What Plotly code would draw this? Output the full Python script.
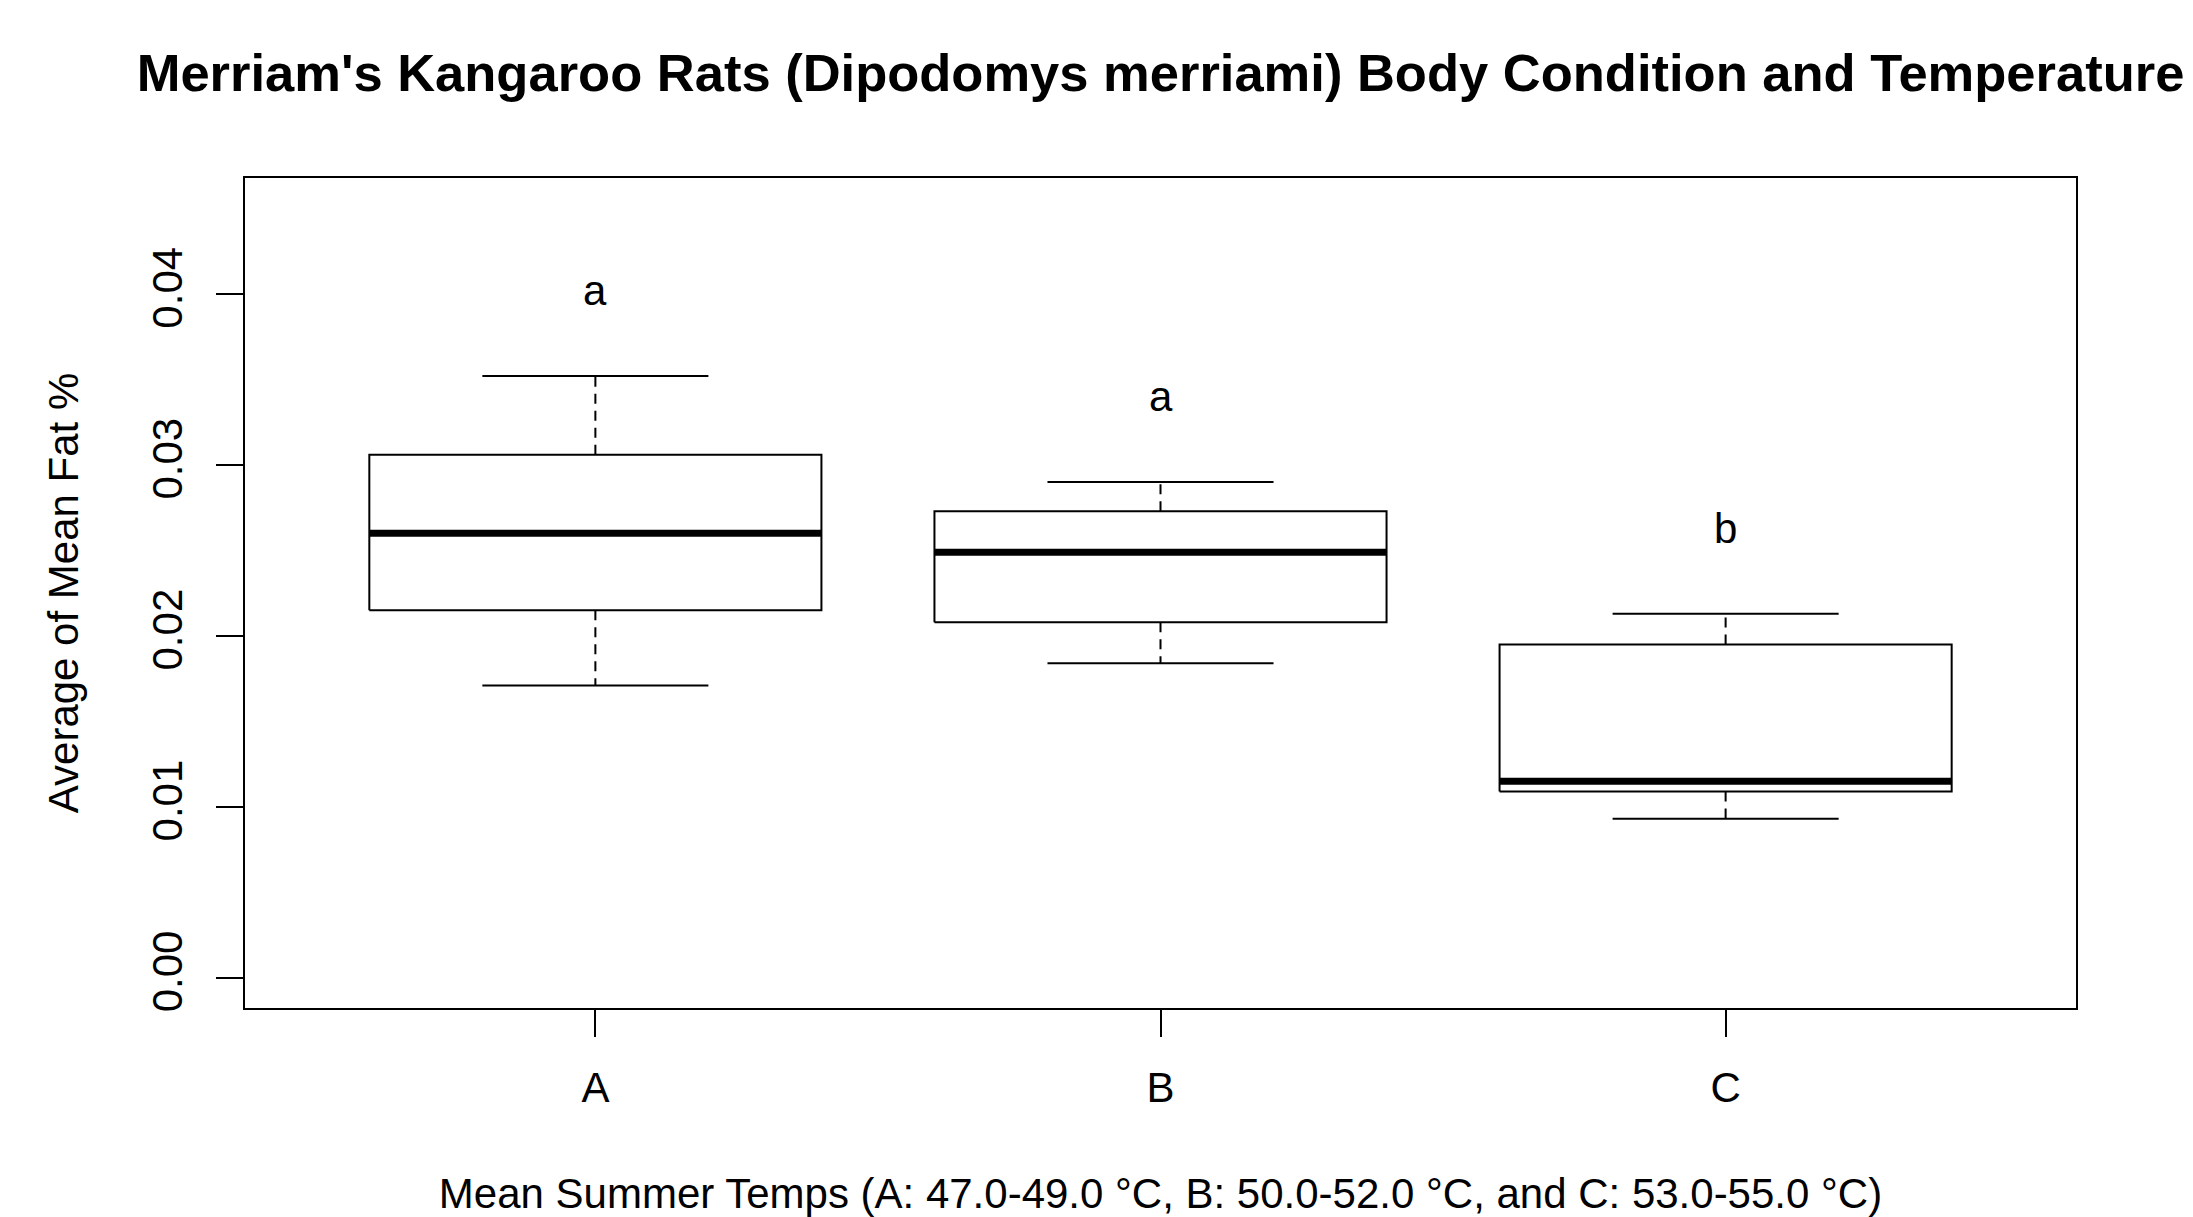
import plotly.graph_objects as go

# ---- data ----
groups = ["A", "B", "C"]
lower_whisker = [0.0171, 0.0184, 0.0093]
q1 = [0.0215, 0.0208, 0.0109]
median = [0.0260, 0.0249, 0.0115]
q3 = [0.0306, 0.0273, 0.0195]
upper_whisker = [0.0352, 0.0290, 0.0213]
letters = ["a", "a", "b"]
letter_offset = 0.005
y_tickvals = [0.00, 0.01, 0.02, 0.03, 0.04]
y_ticktext = ["0.00", "0.01", "0.02", "0.03", "0.04"]

# ---- style ----
BOX_HALF = 0.4
STAPLE_HALF = 0.2
FONT = "Liberation Sans, Arial, sans-serif"
BLACK = "#000000"
W, H = 2185, 1209

fig = go.Figure()
for i, g in enumerate(groups):
    x = i + 1
    # box
    fig.add_trace(go.Scatter(
        x=[x - BOX_HALF, x + BOX_HALF, x + BOX_HALF, x - BOX_HALF, x - BOX_HALF],
        y=[q1[i], q1[i], q3[i], q3[i], q1[i]],
        mode="lines", line=dict(color=BLACK, width=2), showlegend=False, hoverinfo="skip"))
    # whiskers (dashed)
    for a, b in ((q3[i], upper_whisker[i]), (q1[i], lower_whisker[i])):
        fig.add_trace(go.Scatter(
            x=[x, x], y=[a, b], mode="lines",
            line=dict(color=BLACK, width=2, dash="10px,7px"),
            showlegend=False, hoverinfo="skip"))
    # staples
    for v in (upper_whisker[i], lower_whisker[i]):
        fig.add_trace(go.Scatter(
            x=[x - STAPLE_HALF, x + STAPLE_HALF], y=[v, v], mode="lines",
            line=dict(color=BLACK, width=2), showlegend=False, hoverinfo="skip"))
    # median
    fig.add_trace(go.Scatter(
        x=[x - BOX_HALF, x + BOX_HALF], y=[median[i], median[i]], mode="lines",
        line=dict(color=BLACK, width=7), showlegend=False, hoverinfo="skip"))
    # significance letter
    fig.add_annotation(x=x, y=upper_whisker[i] + letter_offset, text=letters[i],
                       showarrow=False, xanchor="center", yanchor="middle",
                       font=dict(family=FONT, size=42, color=BLACK))

fig.update_layout(
    width=W, height=H,
    margin=dict(l=237, r=117, t=170, b=209),
    paper_bgcolor="white", plot_bgcolor="white",
    font=dict(family=FONT, size=42, color=BLACK),
    title=dict(text="<b>Merriam's Kangaroo Rats (Dipodomys merriami) Body Condition and Temperature</b>",
               x=0.5, xref="paper", xanchor="center",
               y=1 - 65 / H, yref="container", yanchor="middle",
               font=dict(family=FONT, size=52.5, color=BLACK)),
    xaxis=dict(range=[0.38, 3.62], tickvals=[1, 2, 3], ticktext=groups,
               automargin=False,
               showline=True, linecolor=BLACK, linewidth=2, mirror=True,
               ticks="outside", ticklen=27, tickwidth=2, tickcolor=BLACK,
               ticklabelstandoff=15,
               showgrid=False, zeroline=False,
               tickfont=dict(family=FONT, size=42, color=BLACK),
               title=dict(text="Mean Summer Temps (A: 47.0-49.0 °C, B: 50.0-52.0 °C, and C: 53.0-55.0 °C)",
                          standoff=69, font=dict(family=FONT, size=42, color=BLACK))),
    yaxis=dict(range=[-0.00177, 0.04679], tickvals=y_tickvals, ticktext=y_ticktext,
               automargin=False,
               tickangle=-90,
               showline=True, linecolor=BLACK, linewidth=2, mirror=True,
               ticks="outside", ticklen=27, tickwidth=2, tickcolor=BLACK,
               ticklabelstandoff=17,
               showgrid=False, zeroline=False,
               tickfont=dict(family=FONT, size=42, color=BLACK),
               title=dict(text="Average of Mean Fat %", standoff=53,
                          font=dict(family=FONT, size=42, color=BLACK))),
)

fig.write_html("out.html")
